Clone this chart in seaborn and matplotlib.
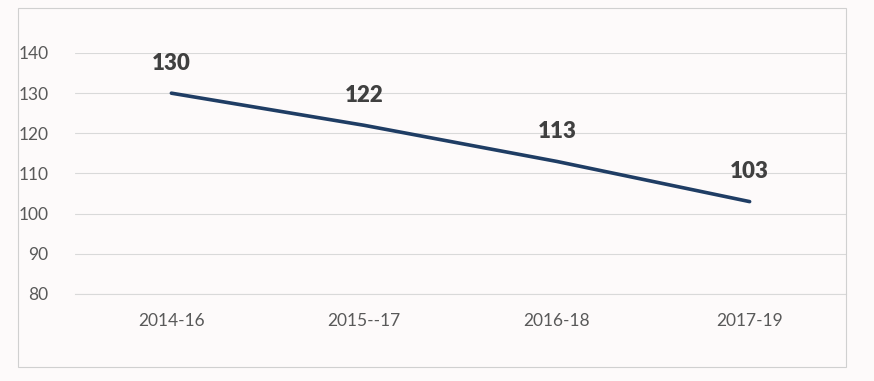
import matplotlib
matplotlib.use("Agg")
import matplotlib.pyplot as plt
import seaborn as sns
import pandas as pd
from matplotlib.patches import Rectangle

periods = ["2014-16", "2015--17", "2016-18", "2017-19"]
values = [130, 122, 113, 103]
yticks = [80, 90, 100, 110, 120, 130, 140]

sns.set_theme(style="white")
plt.rcParams['font.family'] = ['Lato', 'DejaVu Sans']

bg = "#fdfafa"
fig = plt.figure(figsize=(8.74, 3.81), dpi=100, facecolor=bg)
W, H = 874, 381
ax = fig.add_axes([75 / W, 87 / H, (846 - 75) / W, (294 - 53) / H])
ax.set_facecolor(bg)

df = pd.DataFrame({"period": periods, "value": values})
df["x"] = range(len(periods))
sns.lineplot(data=df, x="x", y="value", ax=ax, color="#1f3d64", linewidth=2.6)

for xi, v in zip(df["x"], df["value"]):
    ax.annotate(str(v), (xi, v), xytext=(0, 21.5), textcoords="offset points",
                ha="center", va="center", fontsize=16, fontweight="heavy", color="#404040")

ax.set_xlim(-0.5, len(periods) - 0.5)
ax.set_ylim(80, 140)
ax.set_yticks(yticks)
ax.set_xticks(range(len(periods)))
ax.set_xticklabels(periods)
ax.tick_params(axis="y", length=0, pad=19, labelsize=12.5, labelcolor="#595959")
ax.tick_params(axis="x", length=0, pad=14, labelsize=12.5, labelcolor="#595959")
ax.set_xlabel("")
ax.set_ylabel("")
ax.grid(axis="y", color="#d9d9d9", linewidth=0.8)
ax.set_axisbelow(True)
for s in ["top", "right", "left"]:
    ax.spines[s].set_visible(False)
ax.spines["bottom"].set_color("#d9d9d9")
ax.spines["bottom"].set_linewidth(0.8)

fig.patches.append(Rectangle((18 / W, (H - 367) / H), (846 - 18) / W, (367 - 8) / H,
                             transform=fig.transFigure, fill=False,
                             edgecolor="#d0d0d0", linewidth=0.8))

fig.savefig("out.png", dpi=100, facecolor=bg)
